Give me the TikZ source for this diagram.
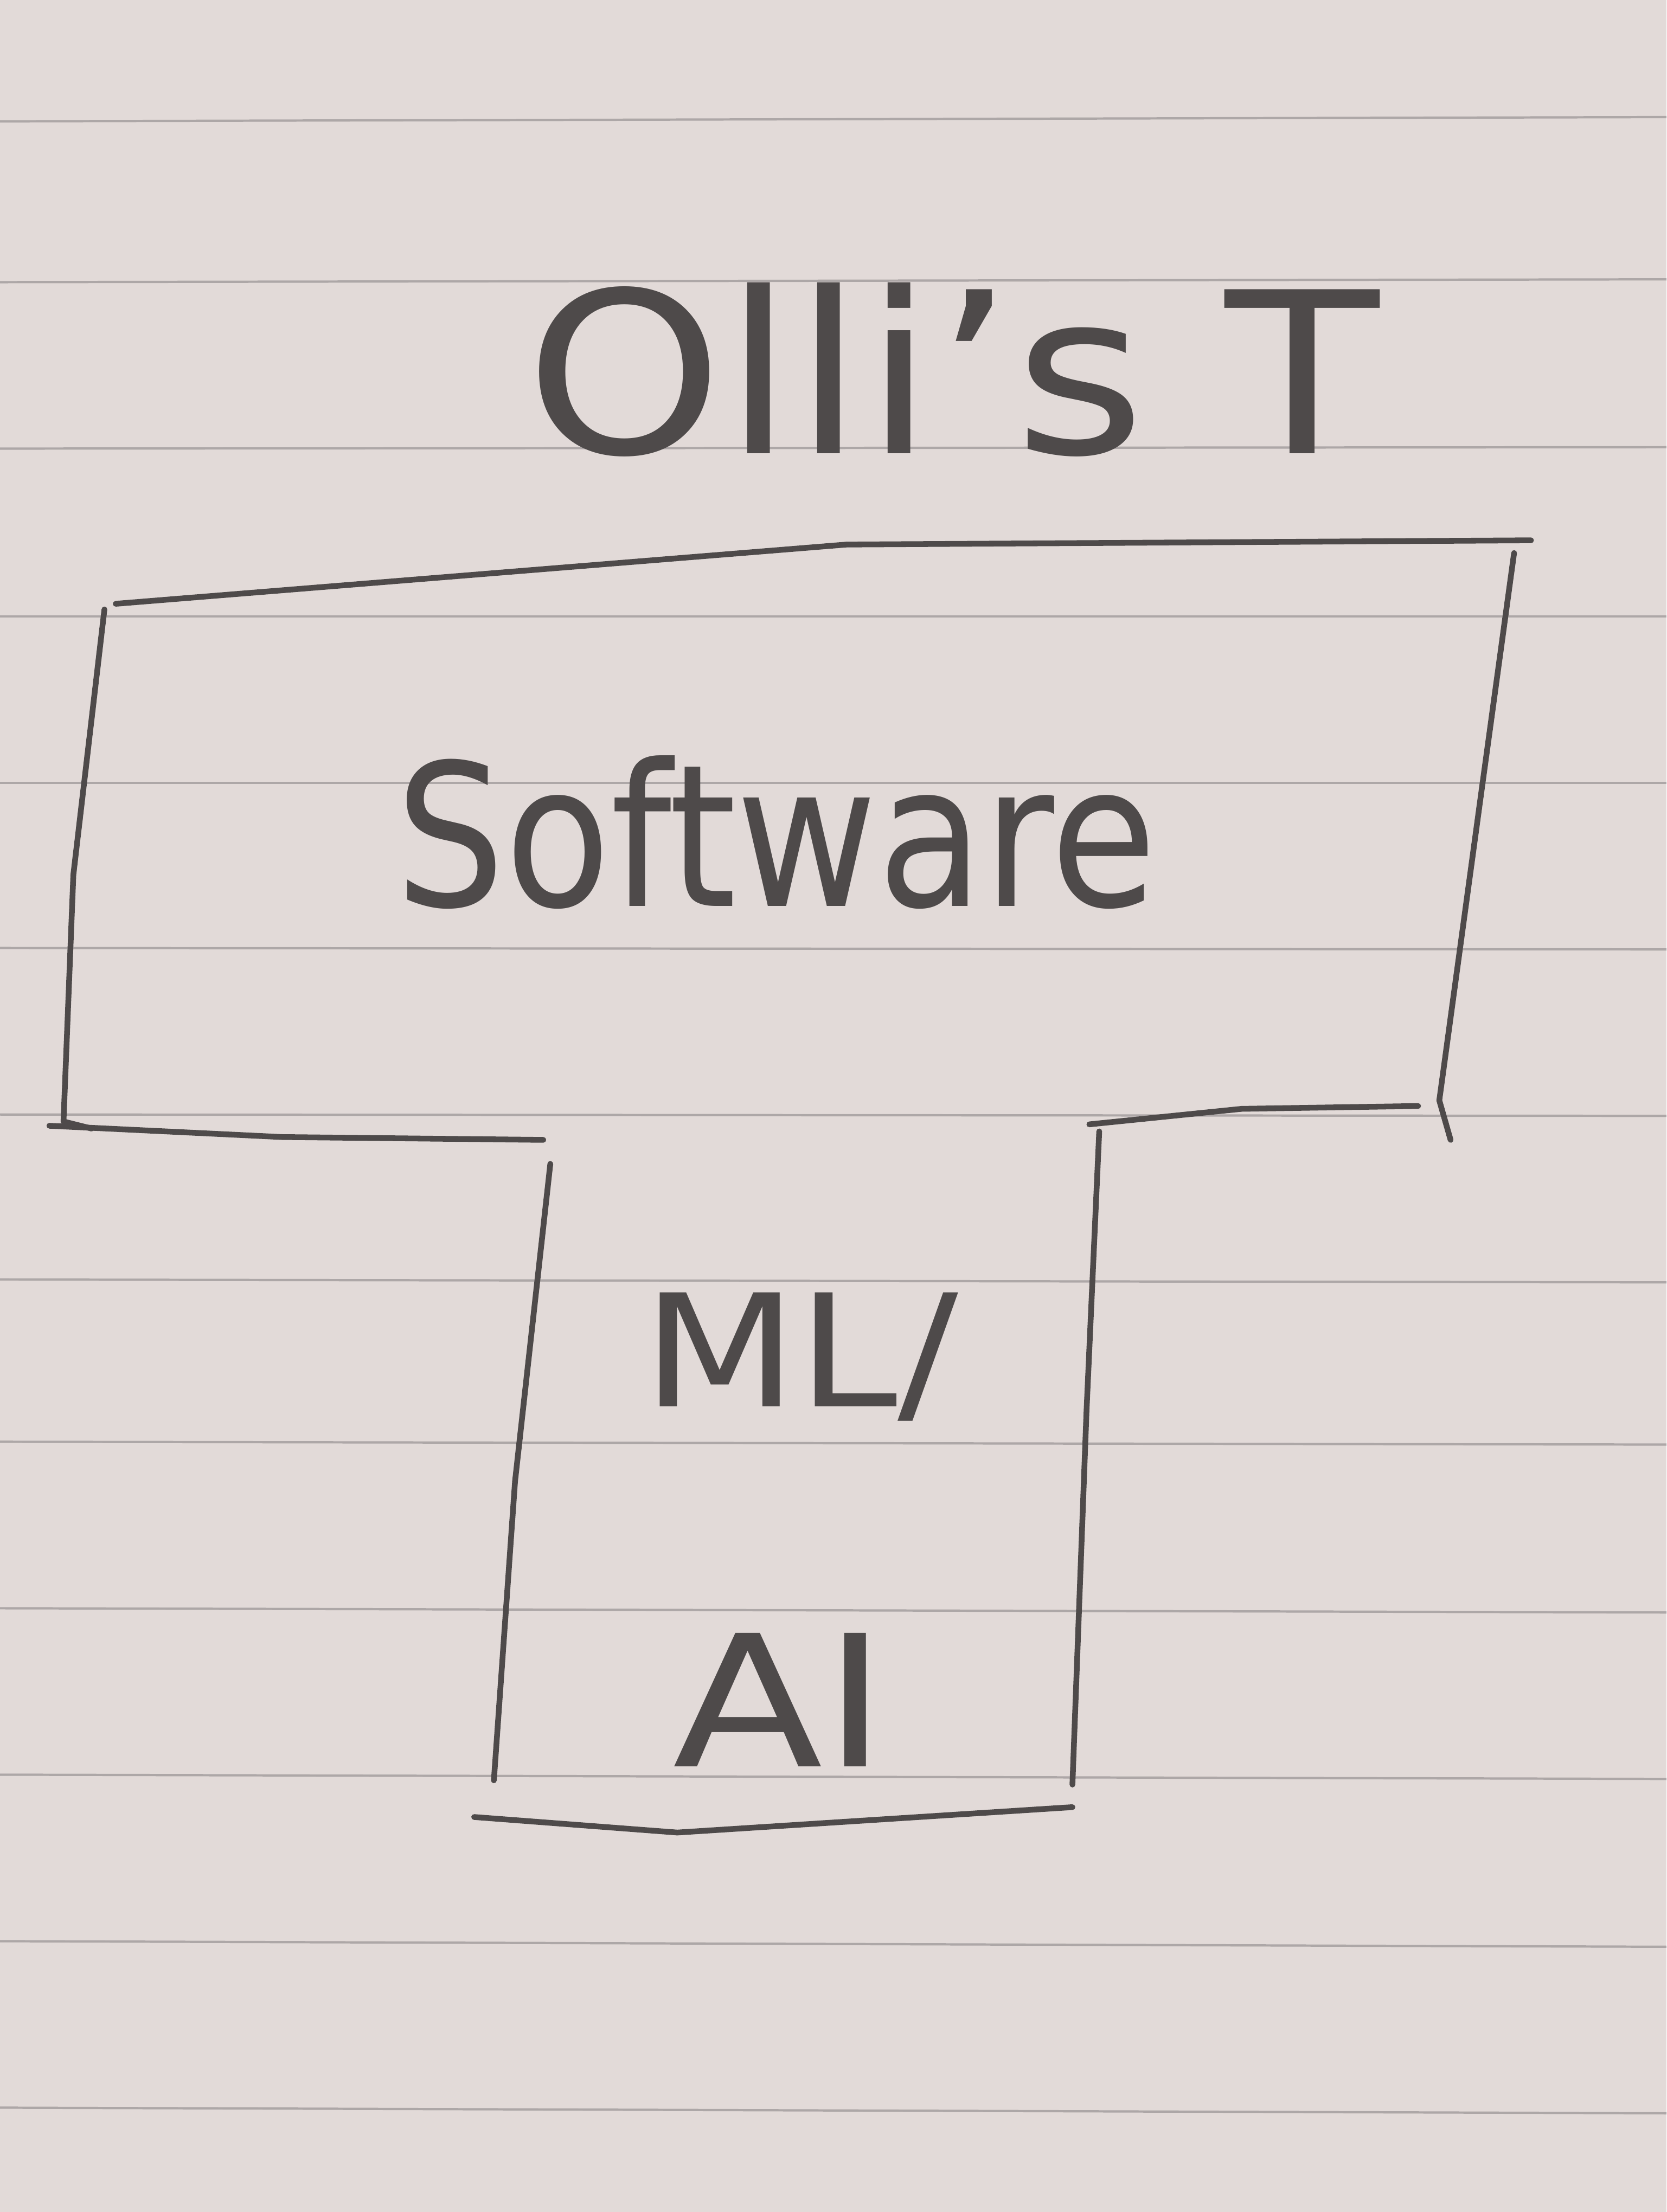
\documentclass[tikz,border=0pt]{standalone}
\usepackage{fontspec}
\setmainfont{DejaVu Sans}
\begin{document}
\begin{tikzpicture}[x=0.026cm,y=-0.026cm,
  pencil/.style={draw=pencilgray,line width=3pt,line cap=round,line join=round},
  rule/.style={draw=rulegray,line width=1.2pt},
  hand/.style={text=pencilgray,inner sep=0pt}]
\definecolor{paper}{HTML}{E2DAD8}
\definecolor{pencilgray}{HTML}{4E4A4A}
\definecolor{rulegray}{HTML}{ADA7A7}
\useasboundingbox (0,0) rectangle (1181,1568);
\fill[paper] (0,0) rectangle (1181,1568);
% ruled lines
\foreach \yy/\dy in {86/-3,200/-2,318/-1,437/0,555/0,672/1,790/1,907/2,1022/2,1140/3,1258/3,1376/4,1494/4}
  \draw[rule] (0,\yy) -- (1181,\yy+\dy);
% T outline
\draw[pencil] (82,428) -- (600,386) -- (1085,383);
\draw[pencil] (1073,392) -- (1050,560) -- (1020,780) -- (1028,808);
\draw[pencil] (1005,784) -- (880,786) -- (772,797);
\draw[pencil] (779,802) -- (770,1000) -- (760,1265);
\draw[pencil] (336,1288) -- (480,1299) -- (760,1281);
\draw[pencil] (390,825) -- (365,1050) -- (350,1262);
\draw[pencil] (35,798) -- (200,806) -- (385,808);
\draw[pencil] (74,432) -- (52,620) -- (45,795) -- (65,800);
% texts
\node[hand,font=\fontsize{118}{130}\selectfont,xscale=1.12] (title) at (675,262) {Olli's T};
\node[hand,font=\fontsize{104}{115}\selectfont,xscale=0.87] (soft) at (550,590) {Software};
\node[hand,font=\fontsize{82}{90}\selectfont,xscale=1.15] (ml) at (567,962) {ML/};
\node[hand,font=\fontsize{96}{105}\selectfont,xscale=1.2] (ai) at (553,1205) {AI};
\end{tikzpicture}
\end{document}
